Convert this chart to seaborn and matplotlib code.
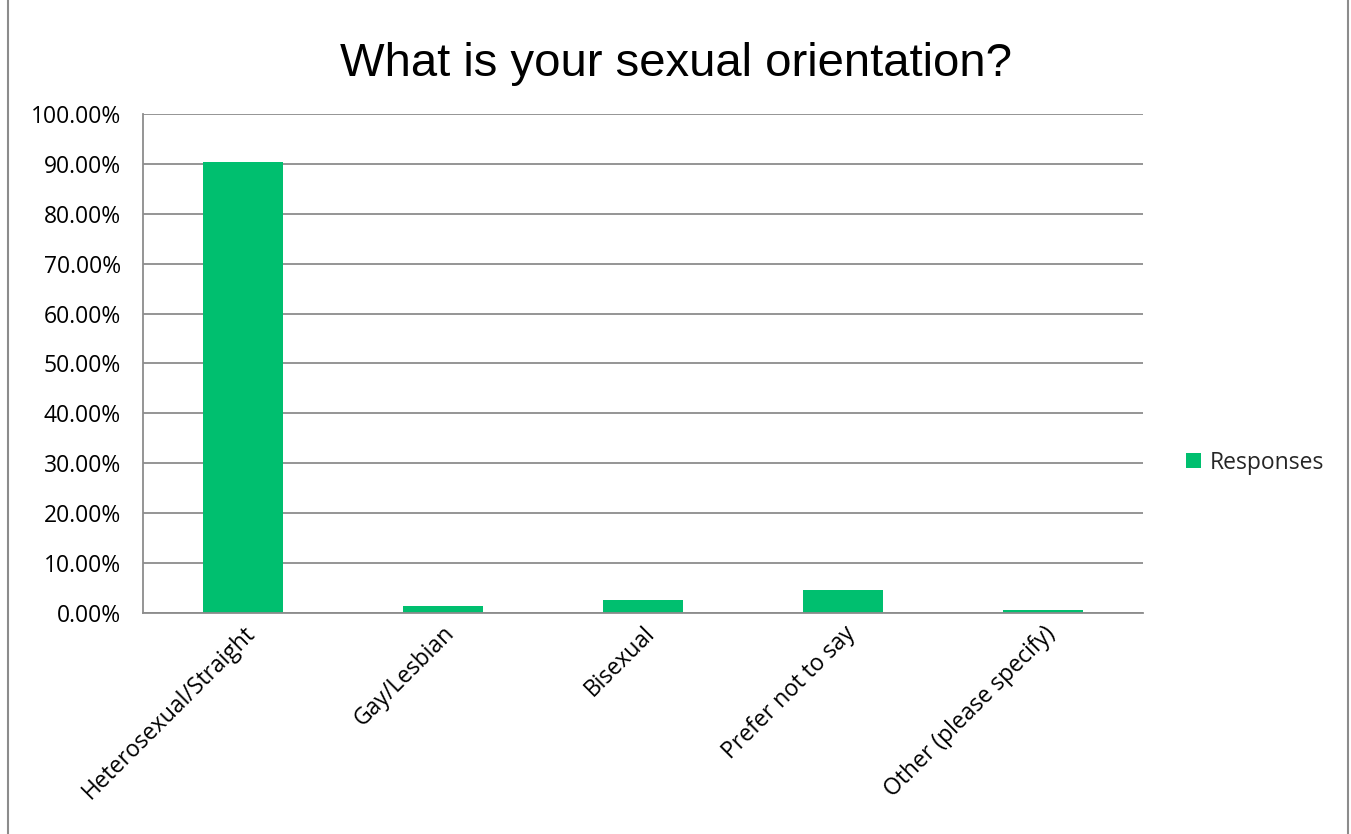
import matplotlib
matplotlib.use("Agg")
import matplotlib.pyplot as plt
import seaborn as sns
import numpy as np
from matplotlib.patches import Rectangle
from matplotlib.ticker import FuncFormatter, FixedLocator

categories = ["Heterosexual/Straight", "Gay/Lesbian", "Bisexual", "Prefer not to say", "Other (please specify)"]
responses = [90.3, 1.4, 2.7, 4.55, 0.6]
yticks = [0, 10, 20, 30, 40, 50, 60, 70, 80, 90, 100]

sns.set_style("white")
plt.rcParams["font.family"] = ["Open Sans", "DejaVu Sans"]

green = "#00BF6F"
grid = "#8C8C8C"

fig = plt.figure(figsize=(13.51, 8.34), dpi=100)
ax = fig.add_axes([0.1058, 0.265, 0.7402, 0.5983])

sns.barplot(x=categories, y=responses, color=green, width=0.4, ax=ax,
            saturation=1, label="Responses", linewidth=0)

ax.set_xlim(-0.5, len(categories) - 0.5)
ax.set_ylim(0, 100)
ax.set_yticks(yticks)
ax.yaxis.set_major_formatter(FuncFormatter(lambda v, p: f"{v:.2f}%"))
ax.yaxis.grid(True, color=grid, linewidth=1.3)
ax.set_axisbelow(True)

for s in ["top", "right"]:
    ax.spines[s].set_visible(False)
for s in ["left", "bottom"]:
    ax.spines[s].set_color(grid)
    ax.spines[s].set_linewidth(1.3)

ax.tick_params(axis="y", which="major", length=6, color=grid, width=1.3,
               direction="out", labelsize=16.5, pad=10, labelcolor="black")
ax.tick_params(axis="x", which="major", length=0, labelsize=16.5, pad=6, labelcolor="black")
ax.xaxis.set_minor_locator(FixedLocator(np.arange(-0.5, len(categories), 1.0)))
ax.tick_params(axis="x", which="minor", length=8, color=grid, width=1.3, direction="out")

for lbl in ax.get_xticklabels():
    lbl.set_rotation(45)
    lbl.set_ha("right")
    lbl.set_rotation_mode("anchor")

ax.set_xlabel("")
ax.set_ylabel("")

fig.text(0.5, 0.923, "What is your sexual orientation?", ha="center", va="center",
         fontsize=34, color="black", family=["Liberation Sans", "DejaVu Sans"])

leg = ax.legend(loc="center left", bbox_to_anchor=(0.871, 0.445), bbox_transform=fig.transFigure,
                frameon=False, fontsize=16.5, handlelength=0.65, handleheight=0.65,
                handletextpad=0.4, borderaxespad=0)

fig.patches.append(Rectangle((0.006, -0.01), 0.992, 1.02, transform=fig.transFigure,
                             fill=False, edgecolor="#8C8C8C", linewidth=1.5))

fig.savefig("out.png", dpi=100)
